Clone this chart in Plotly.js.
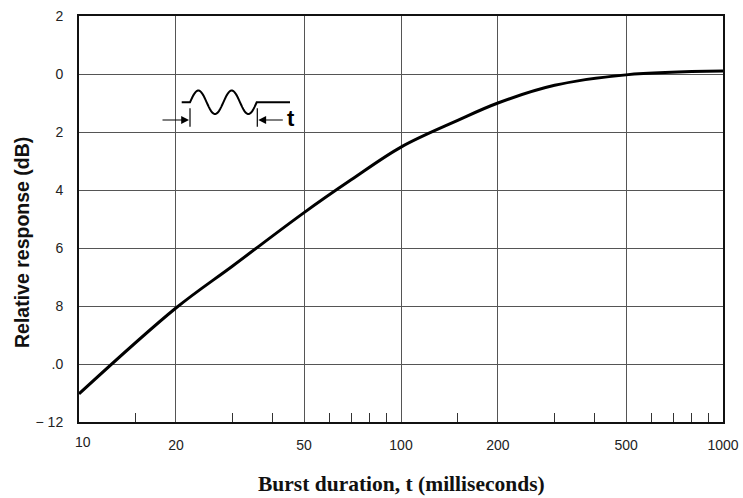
<!DOCTYPE html>
<html>
<head>
<meta charset="utf-8">
<script src="https://cdn.plot.ly/plotly-3.0.1.min.js"></script>
<style>html,body{margin:0;padding:0;background:#fff;}#chart{width:743px;height:498px;}</style>
</head>
<body>
<div id="chart"></div>
<script>
// Data
const burstMs = [10, 20, 30, 50, 70, 100, 150, 200, 300, 500, 1000];
const responseDb = [-11.03, -8.07, -6.62, -4.78, -3.65, -2.52, -1.60, -1.0, -0.39, -0.03, 0.10];

const xTickVals = [10, 20, 50, 100, 200, 500, 1000];
const xTickText = ['10', '20', '50', '100', '200', '500', '1000'];
const xMinorVals = [15, 30, 40, 60, 70, 80, 90, 150, 300, 400, 600, 700, 800, 900];
const yTickVals = [2, 0, -2, -4, -6, -8, -10, -12];
const yTickText = ['2', '0', '2', '4', '6', '8', '.0', '\u2212 12'];
const xTitle = 'Burst duration, t (milliseconds)';
const yTitle = 'Relative response (dB)';

// plot-area geometry (pixels) for placing decorations
const L = 79, R = 723, T = 16, B = 422;
const px = x => (x - L) / (R - L);
const py = y => (B - y) / (B - T);

// burst icon path (decoration)
let path = `M ${px(181.7)} ${py(102.3)} L ${px(190)} ${py(102.3)}`;
const x0 = 190, x1 = 256.7, amp = 11.8, yc = 102.3;
for (let i = 1; i <= 60; i++) {
  const f = i / 60;
  const xx = x0 + f * (x1 - x0);
  const yy = yc - amp * Math.sin(2 * Math.PI * 2 * f);
  path += ` L ${px(xx)} ${py(yy)}`;
}
path += ` L ${px(290)} ${py(102.3)}`;

const shapes = [
  {type: 'path', xref: 'paper', yref: 'paper', path: path, line: {color: '#000', width: 2}},
  {type: 'line', xref: 'paper', yref: 'paper', x0: px(190), x1: px(190), y0: py(108.3), y1: py(126.7), line: {color: '#000', width: 1.2}},
  {type: 'line', xref: 'paper', yref: 'paper', x0: px(257.3), x1: px(257.3), y0: py(108.3), y1: py(126.7), line: {color: '#000', width: 1.2}}
];

const tickFont = {family: 'Liberation Sans, Arial, sans-serif', size: 14, color: '#222'};
// first tick label is nudged inward in the reference
const xTickTextShown = xTickText.map((t, i) => i === 0 ? '' : t);

const annotations = [
  {xref: 'paper', yref: 'paper', x: px(189), y: py(120), text: '', showarrow: true, arrowhead: 2, arrowsize: 1.3, arrowwidth: 1.2, arrowcolor: '#000', ax: -28, ay: 0},
  {xref: 'paper', yref: 'paper', x: px(258.3), y: py(120), text: '', showarrow: true, arrowhead: 2, arrowsize: 1.3, arrowwidth: 1.2, arrowcolor: '#000', ax: 26, ay: 0},
  {xref: 'paper', yref: 'paper', x: px(285), y: py(119), xanchor: 'left', yanchor: 'middle', text: '<b>t</b>', showarrow: false, font: {family: 'Liberation Sans, Arial, sans-serif', size: 22, color: '#000'}},
  {xref: 'paper', yref: 'paper', x: px(83), y: py(442), xanchor: 'center', yanchor: 'middle', text: xTickText[0], showarrow: false, font: tickFont},
  {xref: 'paper', yref: 'paper', x: px(22), y: py(243), xanchor: 'center', yanchor: 'middle', textangle: -90, text: '<b>' + yTitle + '</b>', showarrow: false,
    font: {family: 'Liberation Sans, Arial, sans-serif', size: 19.5, color: '#111'}},
  {xref: 'paper', yref: 'paper', x: px(401), y: py(484), xanchor: 'center', yanchor: 'middle', text: '<b>' + xTitle + '</b>', showarrow: false,
    font: {family: 'Liberation Serif, Times New Roman, serif', size: 21.5, color: '#111'}}
];

const trace = {
  x: burstMs, y: responseDb, type: 'scatter', mode: 'lines',
  line: {color: '#000', width: 3, shape: 'spline', smoothing: 1},
  hoverinfo: 'x+y'
};

const layout = {
  width: 743, height: 498,
  margin: {l: L, r: 743 - R, t: T, b: 498 - B},
  paper_bgcolor: '#fff', plot_bgcolor: '#fff',
  showlegend: false,
  font: tickFont,
  xaxis: {
    type: 'log', range: [1, 3],
    tickvals: xTickVals, ticktext: xTickTextShown, ticks: '',
    showgrid: true, gridcolor: '#555', gridwidth: 1,
    showline: true, linecolor: '#111', linewidth: 2, mirror: true,
    zeroline: false, ticklabelstandoff: 9,
    minor: {tickvals: xMinorVals, ticks: 'inside', ticklen: 9, tickcolor: '#333', tickwidth: 1, showgrid: false}
  },
  yaxis: {
    range: [-12, 2],
    tickvals: yTickVals, ticktext: yTickText, ticks: '',
    showgrid: true, gridcolor: '#555', gridwidth: 1,
    showline: true, linecolor: '#111', linewidth: 2, mirror: true,
    zeroline: false, ticklabelstandoff: 11
  },
  shapes: shapes,
  annotations: annotations
};

Plotly.newPlot('chart', [trace], layout, {displayModeBar: false, staticPlot: true});
</script>
</body>
</html>
